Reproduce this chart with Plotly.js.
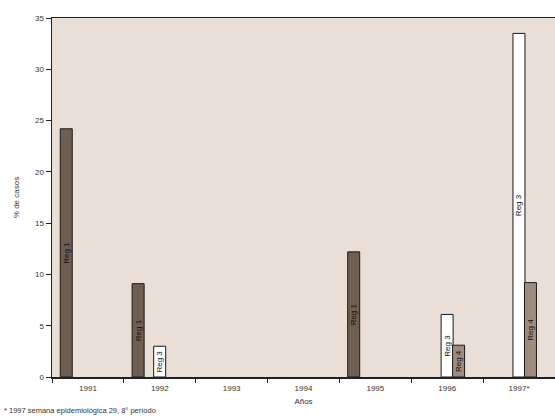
<!DOCTYPE html>
<html>
<head>
<meta charset="utf-8">
<script src="https://cdn.plot.ly/plotly-3.0.1.min.js"></script>
<style>html,body{margin:0;padding:0;background:#fff;}#chart{width:555px;height:418px;}</style>
</head>
<body>
<div id="chart"></div>
<script>
const years = ["1991", "1992", "1993", "1994", "1995", "1996", "1997*"];
const reg1 = [24.2, 9.1, null, null, 12.2, null, null];
const reg3 = [null, 3.0, null, null, null, 6.1, 33.5];
const reg4 = [null, null, null, null, null, 3.1, 9.2];
const yTicks = [0, 5, 10, 15, 20, 25, 30, 35];

function labels(vals, name) { return vals.map(v => v == null ? "" : name); }

const common = {
  type: "bar",
  textposition: "inside",
  insidetextanchor: "middle",
  textangle: -90,
  constraintext: "none",
  textfont: {family: "Liberation Sans, Arial, sans-serif", size: 8, color: "#111"},
  width: 0.167,
  hoverinfo: "none"
};

const data = [
  Object.assign({}, common, {name: "Reg 1", x: years, y: reg1, text: labels(reg1, "Reg 1"), offset: -0.385,
    marker: {color: "#6f5f52", line: {color: "#1a1a1a", width: 1}}}),
  Object.assign({}, common, {name: "Reg 3", x: years, y: reg3, text: labels(reg3, "Reg 3"), offset: -0.085,
    marker: {color: "#ffffff", line: {color: "#1a1a1a", width: 1}}}),
  Object.assign({}, common, {name: "Reg 4", x: years, y: reg4, text: labels(reg4, "Reg 4"), offset: 0.075,
    marker: {color: "#a08c7e", line: {color: "#1a1a1a", width: 1}}})
];

const layout = {
  width: 555, height: 418,
  margin: {l: 52, r: 0, t: 18, b: 41},
  paper_bgcolor: "#ffffff",
  plot_bgcolor: "#e9dfd7",
  showlegend: false,
  barmode: "overlay",
  font: {family: "Liberation Sans, Arial, sans-serif", size: 8, color: "#333"},
  xaxis: {
    type: "category",
    range: [-0.5, 6.5],
    showline: true, linecolor: "#222", linewidth: 1.5, mirror: true,
    ticks: "outside", tickson: "boundaries", ticklen: 4, tickcolor: "#222",
    ticklabelstandoff: 3,
    showgrid: false, zeroline: false,
    tickfont: {size: 8, color: "#333"},
    title: {text: "Años", font: {size: 8, color: "#333"}, standoff: 6}
  },
  yaxis: {
    range: [0, 35],
    tickvals: yTicks,
    ticktext: yTicks.map(String),
    showline: true, linecolor: "#222", linewidth: 1.5,
    ticks: "outside", ticklen: 5, tickcolor: "#222",
    showgrid: false, zeroline: false,
    tickfont: {size: 8, color: "#333"},
    title: {text: "% de casos", font: {size: 8, color: "#333"}, standoff: 14}
  },
  annotations: [{
    text: "* 1997 semana epidemiológica 29, 8° período",
    xref: "paper", yref: "paper", x: -0.1, y: -0.092, xanchor: "left", yanchor: "middle",
    showarrow: false, font: {size: 7.5, color: "#333"}
  }]
};

Plotly.newPlot("chart", data, layout, {displayModeBar: false, staticPlot: true});
</script>
</body>
</html>
